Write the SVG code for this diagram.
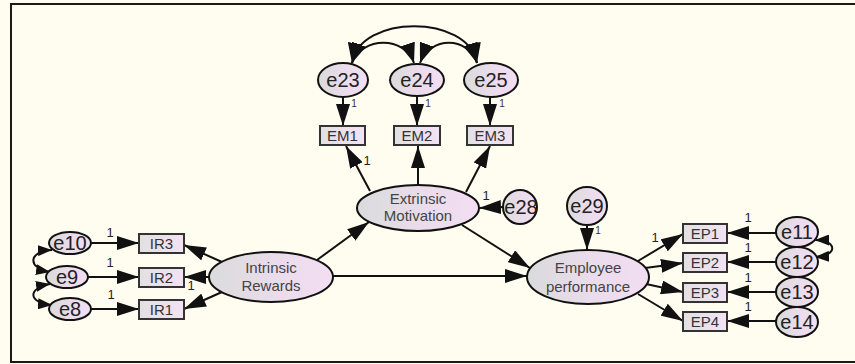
<svg xmlns="http://www.w3.org/2000/svg" width="855" height="364" viewBox="0 0 855 364">
<defs>
<linearGradient id="gE" x1="0" y1="0" x2="1" y2="0">
<stop offset="0" stop-color="#d9dbdb"/><stop offset="0.55" stop-color="#ebdcec"/><stop offset="1" stop-color="#f2def2"/>
</linearGradient>
<linearGradient id="gR" x1="0" y1="0" x2="1" y2="0">
<stop offset="0" stop-color="#e2e0e2"/><stop offset="1" stop-color="#f3e2f3"/>
</linearGradient>
<marker id="ah" markerUnits="userSpaceOnUse" markerWidth="22" markerHeight="14" refX="22" refY="7" orient="auto">
<path d="M0,0 L22,7 L0,14 z" fill="#111"/>
</marker>
<marker id="ahc" markerUnits="userSpaceOnUse" markerWidth="20" markerHeight="15" refX="20" refY="7.5" orient="auto-start-reverse">
<path d="M0,0 L20,7.5 L0,15 z" fill="#111"/>
</marker>
<marker id="ahs" markerUnits="userSpaceOnUse" markerWidth="14" markerHeight="11" refX="14" refY="5.5" orient="auto-start-reverse">
<path d="M0,0 L14,5.5 L0,11 z" fill="#111"/>
</marker>
</defs>
<style>
.lat{fill:url(#gE);stroke:#111;stroke-width:2}
.obs{fill:url(#gR);stroke:#333;stroke-width:2}
.c{fill:none;stroke:#111;stroke-width:2}
.a{marker-end:url(#ah)}
.cov{marker-start:url(#ahc);marker-end:url(#ahc)}
.covs{marker-start:url(#ahs);marker-end:url(#ahs)}
.el{font-family:"Liberation Sans",Arial,sans-serif;font-size:20px;fill:#222;text-anchor:middle}
.nm{font-family:"Liberation Sans",Arial,sans-serif;font-size:15px;fill:#444;text-anchor:middle}
.ob{font-family:"Liberation Sans",Arial,sans-serif;font-size:15px;fill:#333;text-anchor:middle}
.w{font-family:"Liberation Sans",Arial,sans-serif;font-size:13px;fill:#222;text-anchor:middle}
.ws{font-family:"Liberation Sans",Arial,sans-serif;font-size:10px;fill:#333;text-anchor:middle}
</style>
<rect x="0" y="0" width="855" height="364" fill="#fffdf0"/>
<rect x="11" y="4" width="860" height="358" fill="none" stroke="#1a1a1a" stroke-width="2"/>

<g id="connectors">
<path class="c cov" d="M352,63 C360,14 468,14 477,63"/>
<path class="c cov" d="M352,63 C362,36 405,36 414,63"/>
<path class="c cov" d="M420,63 C430,36 468,36 477,63"/>
<path class="c covs" d="M52,250 C28,251 27,268 50,272"/>
<path class="c covs" d="M50,284 C27,288 28,303 52,305"/>
<path class="c covs" d="M815,240 C838,240 838,256 815,257"/>

<path class="c a" d="M91,243 L139,243"/>
<path class="c a" d="M88,277 L139,277"/>
<path class="c a" d="M91,309 L139,309"/>
<path class="c a" d="M222,262 L184,245"/>
<path class="c a" d="M209,277 L184,277"/>
<path class="c a" d="M222,292 L184,309"/>
<path class="c a" d="M317,260 L369,222"/>
<path class="c a" d="M333,276 L527,276"/>
<path class="c a" d="M462,225 L530,268"/>
<path class="c a" d="M370,191 L346,146"/>
<path class="c a" d="M418,185 L418,146"/>
<path class="c a" d="M466,192 L490,146"/>
<path class="c a" d="M343,97 L343,126"/>
<path class="c a" d="M417,96 L417,126"/>
<path class="c a" d="M490,97 L490,126"/>
<path class="c a" d="M503,207 L479,208"/>
<path class="c a" d="M587,225 L587,250"/>
<path class="c a" d="M638,261 L683,234"/>
<path class="c a" d="M645,268 L683,263"/>
<path class="c a" d="M646,284 L683,292"/>
<path class="c a" d="M638,294 L683,321"/>
<path class="c a" d="M776,233 L727,233"/>
<path class="c a" d="M776,262 L727,262"/>
<path class="c a" d="M776,292 L727,292"/>
<path class="c a" d="M776,321 L727,321"/>

<text class="w" x="110" y="237">1</text>
<text class="w" x="110" y="267">1</text>
<text class="w" x="111" y="299">1</text>
<text class="w" x="191" y="290">1</text>
<text class="w" x="367" y="165">1</text>
<text class="w" x="486" y="200">1</text>
<text class="w" x="655" y="242">1</text>
<text class="w" x="748" y="222">1</text>
<text class="w" x="748" y="252">1</text>
<text class="w" x="748" y="282">1</text>
<text class="w" x="748" y="311">1</text>
<text class="ws" x="354" y="107">1</text>
<text class="ws" x="428" y="107">1</text>
<text class="ws" x="502" y="107">1</text>
<text class="ws" x="598" y="234">1</text>
</g>

<g id="e23"><ellipse class="lat" cx="343" cy="80" rx="25" ry="17"/><text class="el" x="343" y="87">e23</text></g>
<g id="e24"><ellipse class="lat" cx="417" cy="80" rx="27" ry="16"/><text class="el" x="417" y="87">e24</text></g>
<g id="e25"><ellipse class="lat" cx="491" cy="80" rx="27" ry="17"/><text class="el" x="491" y="87">e25</text></g>
<g id="EM1"><rect class="obs" x="320" y="126" width="45" height="19"/><text class="ob" x="342.5" y="141">EM1</text></g>
<g id="EM2"><rect class="obs" x="394" y="126" width="46" height="19"/><text class="ob" x="417" y="141">EM2</text></g>
<g id="EM3"><rect class="obs" x="467" y="126" width="46" height="19"/><text class="ob" x="490" y="141">EM3</text></g>
<g id="ExtrinsicMotivation"><ellipse class="lat" cx="418" cy="208" rx="61" ry="23"/><text class="nm" x="418" y="204">Extrinsic</text><text class="nm" x="418" y="221">Motivation</text></g>
<g id="e28"><ellipse class="lat" cx="520" cy="207" rx="17" ry="17"/><text class="el" x="521" y="214">e28</text></g>
<g id="e29"><ellipse class="lat" cx="587" cy="206" rx="20" ry="19"/><text class="el" x="587" y="213">e29</text></g>
<g id="EmployeePerformance"><ellipse class="lat" cx="588" cy="277" rx="61" ry="27"/><text class="nm" x="588" y="273">Employee</text><text class="nm" x="588" y="292">performance</text></g>
<g id="IntrinsicRewards"><ellipse class="lat" cx="271" cy="277" rx="62" ry="25"/><text class="nm" x="271" y="273">Intrinsic</text><text class="nm" x="271" y="291">Rewards</text></g>
<g id="e10"><ellipse class="lat" cx="70" cy="243" rx="21" ry="11"/><text class="el" x="70" y="250">e10</text></g>
<g id="e9"><ellipse class="lat" cx="67" cy="277" rx="21" ry="11"/><text class="el" x="67" y="284">e9</text></g>
<g id="e8"><ellipse class="lat" cx="70" cy="309" rx="21" ry="11"/><text class="el" x="70" y="316">e8</text></g>
<g id="IR3"><rect class="obs" x="139" y="234" width="45" height="19"/><text class="ob" x="161.5" y="249">IR3</text></g>
<g id="IR2"><rect class="obs" x="139" y="268" width="45" height="19"/><text class="ob" x="161.5" y="283">IR2</text></g>
<g id="IR1"><rect class="obs" x="139" y="300" width="45" height="19"/><text class="ob" x="161.5" y="315">IR1</text></g>
<g id="EP1"><rect class="obs" x="683" y="224" width="44" height="19"/><text class="ob" x="705" y="239">EP1</text></g>
<g id="EP2"><rect class="obs" x="683" y="253" width="44" height="19"/><text class="ob" x="705" y="268">EP2</text></g>
<g id="EP3"><rect class="obs" x="683" y="283" width="44" height="19"/><text class="ob" x="705" y="298">EP3</text></g>
<g id="EP4"><rect class="obs" x="683" y="312" width="44" height="19"/><text class="ob" x="705" y="327">EP4</text></g>
<g id="e11"><ellipse class="lat" cx="797" cy="232" rx="21" ry="15"/><text class="el" x="797" y="239">e11</text></g>
<g id="e12"><ellipse class="lat" cx="797" cy="262" rx="21" ry="15"/><text class="el" x="797" y="269">e12</text></g>
<g id="e13"><ellipse class="lat" cx="797" cy="292" rx="21" ry="15"/><text class="el" x="797" y="299">e13</text></g>
<g id="e14"><ellipse class="lat" cx="797" cy="322" rx="21" ry="15"/><text class="el" x="797" y="329">e14</text></g>
</svg>
